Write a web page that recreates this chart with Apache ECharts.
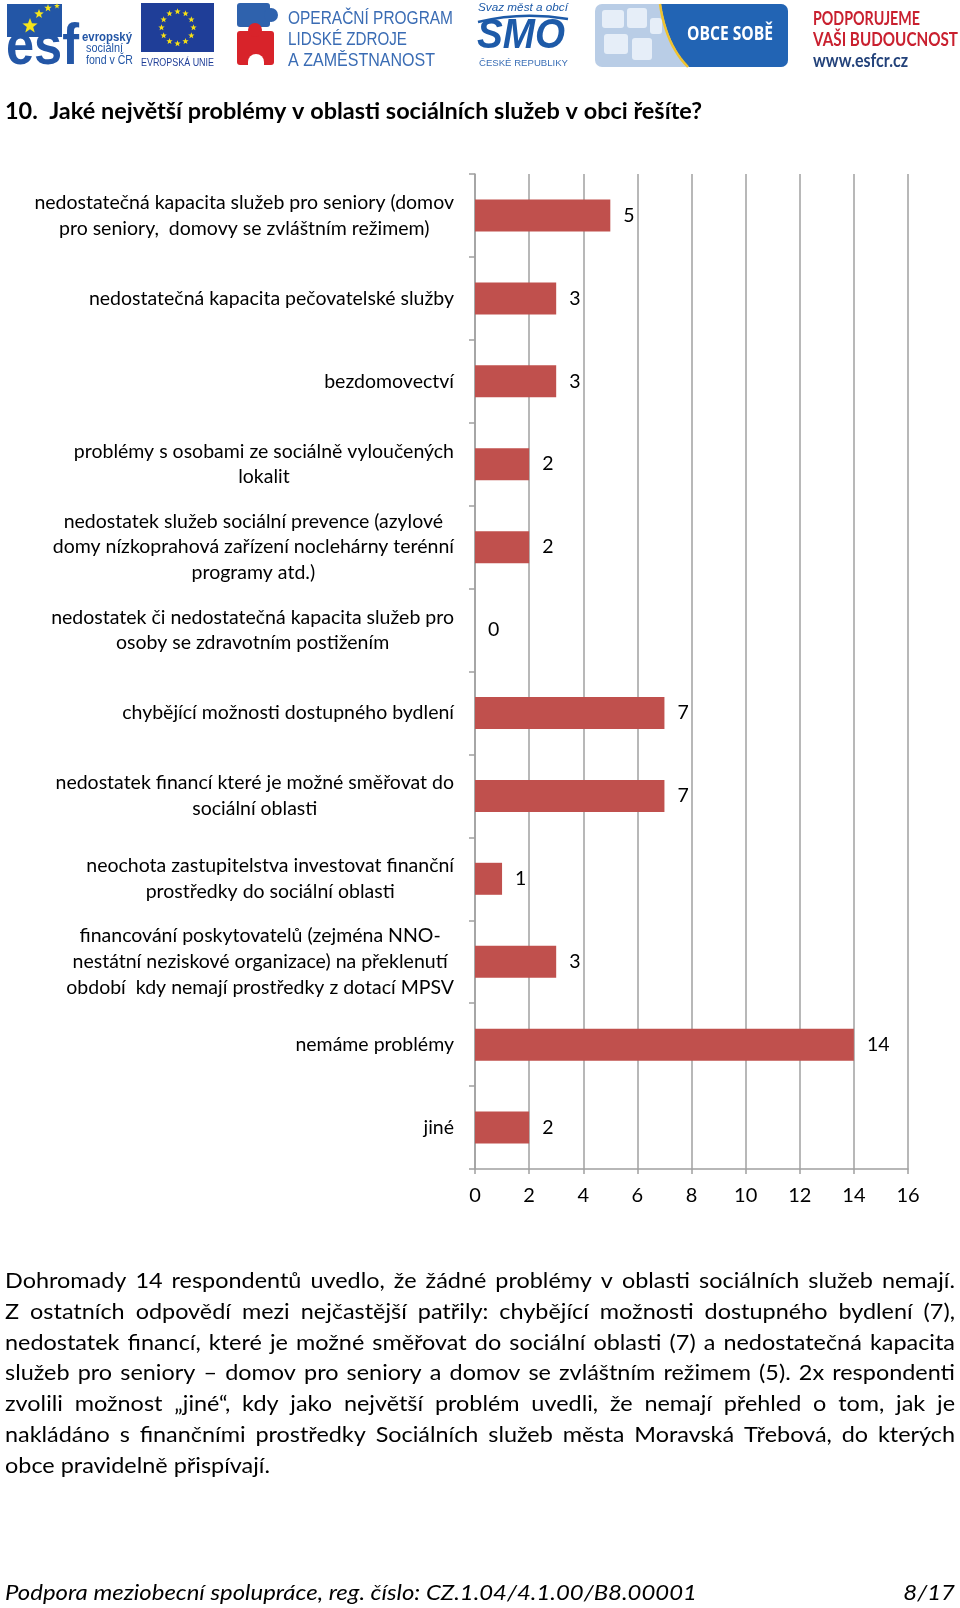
<!DOCTYPE html>
<html>
<head>
<meta charset="utf-8">
<script src="https://cdn.jsdelivr.net/npm/echarts@6/dist/echarts.min.js"></script>
<style>
html,body{margin:0;padding:0;background:#fff;}
#chart{width:960px;height:1608px;}
</style>
</head>
<body>
<div id="chart"></div>
<script>
// ---------- DATA ----------
const categories = [
  'nedostatečná kapacita služeb pro seniory (domov\npro seniory,  domovy se zvláštním režimem)',
  'nedostatečná kapacita pečovatelské služby',
  'bezdomovectví',
  'problémy s osobami ze sociálně vyloučených\nlokalit',
  'nedostatek služeb sociální prevence (azylové\ndomy nízkoprahová zařízení noclehárny terénní\nprogramy atd.)',
  'nedostatek či nedostatečná kapacita služeb pro\nosoby se zdravotním postižením',
  'chybějící možnosti dostupného bydlení',
  'nedostatek financí které je možné směřovat do\nsociální oblasti',
  'neochota zastupitelstva investovat finanční\nprostředky do sociální oblasti',
  'financování poskytovatelů (zejména NNO-\nnestátní neziskové organizace) na překlenutí\nobdobí  kdy nemají prostředky z dotací MPSV',
  'nemáme problémy',
  'jiné'
];
const values = [5, 3, 3, 2, 2, 0, 7, 7, 1, 3, 14, 2];
const xTickValues = [0, 2, 4, 6, 8, 10, 12, 14, 16];

const titleText = '10.  Jaké největší problémy v oblasti sociálních služeb v obci řešíte?';
const paragraphLines = [
  'Dohromady 14 respondentů uvedlo, že žádné problémy v oblasti sociálních služeb nemají.',
  'Z ostatních odpovědí mezi nejčastější patřily: chybějící možnosti dostupného bydlení (7),',
  'nedostatek financí, které je možné směřovat do sociální oblasti (7) a nedostatečná kapacita',
  'služeb pro seniory – domov pro seniory a domov se zvláštním režimem (5). 2x respondenti',
  'zvolili možnost „jiné“, kdy jako největší problém uvedli, že nemají přehled o tom, jak je',
  'nakládáno s finančními prostředky Sociálních služeb města Moravská Třebová, do kterých',
  'obce pravidelně přispívají.'
];
const footerLeft = 'Podpora meziobecní spolupráce, reg. číslo: CZ.1.04/4.1.00/B8.00001';
const footerRight = '8/17';
const headerTexts = {
  esf: ['evropský', 'sociální', 'fond v ČR'],
  eu: 'EVROPSKÁ UNIE',
  op: ['OPERAČNÍ PROGRAM', 'LIDSKÉ ZDROJE', 'A ZAMĚSTNANOST'],
  smo: ['Svaz měst a obcí', 'SMO', 'ČESKÉ REPUBLIKY'],
  obce: 'OBCE SOBĚ',
  esfcr: ['PODPORUJEME', 'VAŠI BUDOUCNOST', 'www.esfcr.cz']
};

// ---------- helpers ----------
const mctx = document.createElement('canvas').getContext('2d');
function fontStr(size, family, weight, style) {
  return (style || 'normal') + ' ' + (weight || 'normal') + ' ' + size + 'px ' + family;
}
function tw(text, size, family, weight, style) {
  mctx.font = fontStr(size, family, weight, style);
  return mctx.measureText(text).width;
}
function textEl(text, x, y, o) {
  o = o || {};
  const size = o.size || 16, family = o.family || 'Lato';
  let sx = o.scaleX || 1;
  if (o.width) sx = o.width / tw(text, size, family, o.weight, o.style);
  return {
    type: 'text', x: x, y: y, scaleX: sx, scaleY: 1, z: 10,
    style: {
      text: text, x: 0, y: 0,
      fill: o.color || '#000',
      fontSize: size, fontFamily: family,
      fontWeight: o.weight || 'normal', fontStyle: o.style || 'normal',
      align: o.align || 'left', verticalAlign: 'middle',
      textAlign: o.align || 'left', textVerticalAlign: 'middle'
    }
  };
}
function starPts(cx, cy, r) {
  const pts = [];
  for (let i = 0; i < 10; i++) {
    const a = -Math.PI / 2 + i * Math.PI / 5;
    const rr = i % 2 === 0 ? r : r * 0.42;
    pts.push([cx + rr * Math.cos(a), cy + rr * Math.sin(a)]);
  }
  return pts;
}
function star(cx, cy, r, color) {
  return { type: 'polygon', z: 11, shape: { points: starPts(cx, cy, r) }, style: { fill: color } };
}
function rect(x, y, w, h, color, r) {
  return { type: 'rect', z: 9, shape: { x: x, y: y, width: w, height: h, r: r || 0 }, style: { fill: color } };
}
function circle(cx, cy, r, color) {
  return { type: 'circle', z: 9, shape: { cx: cx, cy: cy, r: r }, style: { fill: color } };
}

const graphics = [];

// ---------- header logos ----------
const ESF_BLUE = '#2356a6';
graphics.push(rect(7, 4, 55, 33, ESF_BLUE));
graphics.push(star(30, 26, 8, '#f5e51b'));
graphics.push(star(39, 14, 5, '#f5e51b'));
graphics.push(star(48, 8, 4, '#f5e51b'));
graphics.push(star(57, 6, 3, '#f5e51b'));
graphics.push(textEl('esf', 6, 48, { size: 58, family: 'Liberation Sans', weight: 'bold', width: 73, color: ESF_BLUE }));
graphics.push(textEl(headerTexts.esf[0], 82, 38, { size: 12, family: 'Liberation Sans', weight: 'bold', width: 50, color: ESF_BLUE }));
graphics.push(textEl(headerTexts.esf[1], 86, 49, { size: 12, family: 'Liberation Sans', width: 37, color: ESF_BLUE }));
graphics.push(textEl(headerTexts.esf[2], 86, 61, { size: 12, family: 'Liberation Sans', width: 47, color: ESF_BLUE }));

// EU flag
graphics.push(rect(141, 3, 73, 49, '#1f3e98'));
for (let i = 0; i < 12; i++) {
  const a = i * Math.PI / 6;
  graphics.push(star(177.5 + 16 * Math.cos(a), 27.5 + 16 * Math.sin(a), 3.3, '#f7e014'));
}
graphics.push(textEl(headerTexts.eu, 141, 63, { size: 10, family: 'Liberation Sans', width: 73, color: '#1f3e98' }));

// OP LZZ puzzle
graphics.push(rect(237, 3, 33, 24, '#2f62ad', 3));
graphics.push(circle(271, 15, 7, '#2f62ad'));
graphics.push(rect(237, 31, 37, 34, '#d8232a', 3));
graphics.push(circle(255, 30, 7, '#d8232a'));
graphics.push(circle(256, 62, 8, '#ffffff'));
graphics.push(rect(248, 62, 16, 5, '#ffffff'));
const OP_BLUE = '#3a6cb4';
graphics.push(textEl(headerTexts.op[0], 288, 19, { size: 18, family: 'Liberation Sans', width: 165, color: OP_BLUE }));
graphics.push(textEl(headerTexts.op[1], 288, 40.5, { size: 18, family: 'Liberation Sans', width: 119, color: OP_BLUE }));
graphics.push(textEl(headerTexts.op[2], 288, 61, { size: 18, family: 'Liberation Sans', width: 147, color: OP_BLUE }));

// SMO
const SMO_BLUE = '#1d5aa8';
graphics.push(textEl(headerTexts.smo[0], 478, 8, { size: 11, family: 'Liberation Sans', style: 'italic', width: 90, color: SMO_BLUE }));
graphics.push({ type: 'bezierCurve', z: 11, shape: { x1: 478, y1: 22, x2: 568, y2: 19, cpx1: 522, cpy1: 11 }, style: { stroke: SMO_BLUE, lineWidth: 2.5, fill: null } });
graphics.push(textEl(headerTexts.smo[1], 477, 36, { size: 42, family: 'Liberation Sans', weight: 'bold', style: 'italic', width: 88, color: SMO_BLUE }));
graphics.push(textEl(headerTexts.smo[2], 479, 63.5, { size: 9, family: 'Liberation Sans', width: 89, color: '#3b6fb6' }));

// OBCE SOBĚ
graphics.push(rect(595, 4, 193, 63, '#b9cde6', 7));
graphics.push(rect(650, 4, 138, 63, '#2264b4', 7));
const curve = [];
for (let i = 0; i <= 12; i++) {
  const t = i / 12;
  const x = (1 - t) * (1 - t) * 661 + 2 * (1 - t) * t * 667 + t * t * 689;
  const y = (1 - t) * (1 - t) * 4 + 2 * (1 - t) * t * 45 + t * t * 67;
  curve.push([x, y]);
}
graphics.push({ type: 'polygon', z: 9, shape: { points: [[648, 4]].concat(curve).concat([[648, 67]]) }, style: { fill: '#b9cde6' } });
graphics.push({ type: 'polyline', z: 10, shape: { points: curve.map(p => [p[0] - 1, p[1]]) }, style: { stroke: '#efc22e', lineWidth: 2.5, fill: null } });
[[602, 10, 22, 18], [627, 8, 20, 20], [604, 34, 24, 20], [632, 38, 20, 22], [650, 18, 12, 16]].forEach(r => {
  graphics.push(rect(r[0], r[1], r[2], r[3], '#e6eef8', 3));
});
graphics.push(textEl(headerTexts.obce, 687, 35, { size: 19, family: 'Open Sans', weight: 'bold', width: 86, color: '#ffffff' }));

// PODPORUJEME ...
graphics.push(textEl(headerTexts.esfcr[0], 813, 19, { size: 18, family: 'Lato', weight: 'bold', width: 107, color: '#c9202f' }));
graphics.push(textEl(headerTexts.esfcr[1], 813, 40.5, { size: 18, family: 'Lato', weight: 'bold', width: 145, color: '#c9202f' }));
graphics.push(textEl(headerTexts.esfcr[2], 813, 61, { size: 18, family: 'Lato', weight: 'bold', width: 95, color: '#23427a' }));

// ---------- title ----------
graphics.push(textEl(titleText, 5, 111.5, { size: 23.5, family: 'Lato', weight: 'bold', width: 697, color: '#000' }));

// ---------- paragraph (justified) ----------
const P_SIZE = 22;
const pScale = 265 / tw(paragraphLines[paragraphLines.length - 1], P_SIZE, 'Lato');
const P_LEFT = 5, P_RIGHT = 955;
paragraphLines.forEach((line, i) => {
  const y = 1281 + i * 30.77;
  if (i === paragraphLines.length - 1) {
    graphics.push(textEl(line, P_LEFT, y, { size: P_SIZE, scaleX: pScale }));
    return;
  }
  const words = line.split(' ');
  const widths = words.map(w => tw(w, P_SIZE, 'Lato') * pScale);
  const total = widths.reduce((a, b) => a + b, 0);
  const gap = (P_RIGHT - P_LEFT - total) / (words.length - 1);
  let x = P_LEFT;
  words.forEach((w, j) => {
    graphics.push(textEl(w, x, y, { size: P_SIZE, scaleX: pScale }));
    x += widths[j] + gap;
  });
});

// ---------- footer ----------
const fScaleW = 692 / tw(footerLeft, 21, 'Lato', 'normal', 'italic');
graphics.push(textEl(footerLeft, 5, 1593.5, { size: 21, style: 'italic', scaleX: fScaleW }));
graphics.push(textEl(footerRight, 955, 1593.5, { size: 21, style: 'italic', scaleX: fScaleW, align: 'right' }));

// ---------- chart ----------
const AXIS_GRAY = '#a0a0a0';
const chart = echarts.init(document.getElementById('chart'), null, { renderer: 'canvas' });
chart.setOption({
  animation: false,
  backgroundColor: '#ffffff',
  textStyle: { fontFamily: 'Lato' },
  grid: { left: 475, right: 52, top: 174, bottom: 439, containLabel: false },
  xAxis: {
    type: 'value',
    min: xTickValues[0],
    max: xTickValues[xTickValues.length - 1],
    interval: xTickValues[1] - xTickValues[0],
    axisLine: { show: true, lineStyle: { color: AXIS_GRAY, width: 1.5 } },
    axisTick: { show: true, length: 5, lineStyle: { color: AXIS_GRAY, width: 1.5 } },
    splitLine: { show: true, lineStyle: { color: AXIS_GRAY, width: 1.5 } },
    axisLabel: { color: '#000', fontSize: 20, fontFamily: 'Lato', margin: 17 }
  },
  yAxis: {
    type: 'category',
    inverse: true,
    data: categories,
    axisLine: { show: true, lineStyle: { color: AXIS_GRAY, width: 1.5 } },
    axisTick: { show: true, length: 6, lineStyle: { color: AXIS_GRAY, width: 1.5 } },
    splitLine: { show: false },
    axisLabel: {
      interval: 0,
      margin: 21,
      color: '#000',
      formatter: v => v.split('\n').map(l => '{c|' + l + '}').join('\n'),
      rich: { c: { align: 'center', fontSize: 19.5, lineHeight: 25.6, fontFamily: 'Lato', color: '#000' } }
    }
  },
  series: [{
    type: 'bar',
    data: values,
    barWidth: 32,
    itemStyle: { color: '#c0504d' },
    label: { show: true, position: 'right', distance: 13, color: '#000', fontSize: 19.5, fontFamily: 'Lato' }
  }],
  graphic: { elements: graphics }
});
</script>
</body>
</html>
